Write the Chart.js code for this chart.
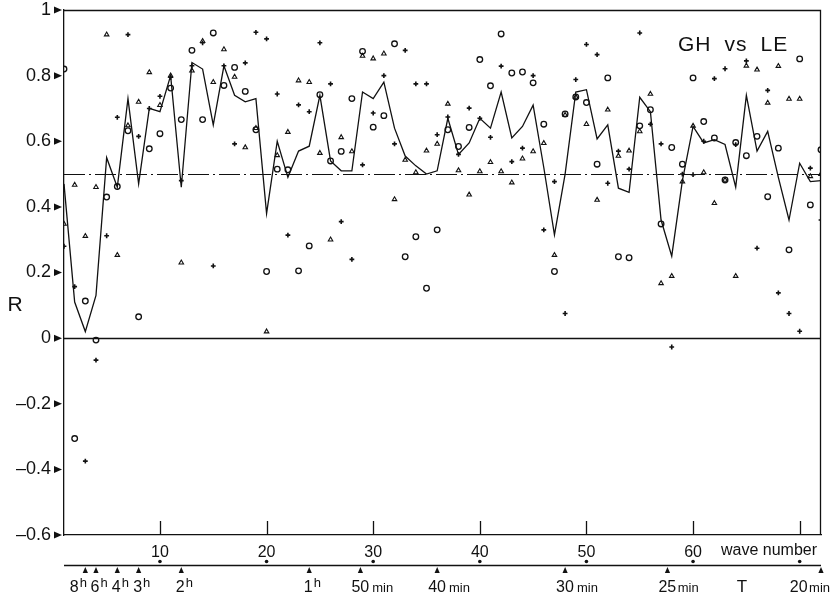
<!DOCTYPE html>
<html>
<head>
<meta charset="utf-8">
<script src="https://cdn.jsdelivr.net/npm/chart.js@4.4.1/dist/chart.umd.min.js"></script>
<style>
  html, body { margin: 0; padding: 0; background: #fff; }
  #wrap { width: 831px; height: 596px; }
</style>
</head>
<body>
<div id="wrap"><canvas id="chart" width="831" height="596"></canvas></div>
<script>
// wave numbers 1..72 (period = 24h / n)
const waveNumbers = [
  1, 2, 3, 4, 5, 6, 7, 8, 9, 10, 11, 12, 13, 14, 15, 16, 17, 18,
  19, 20, 21, 22, 23, 24, 25, 26, 27, 28, 29, 30, 31, 32, 33, 34, 35, 36,
  37, 38, 39, 40, 41, 42, 43, 44, 45, 46, 47, 48, 49, 50, 51, 52, 53, 54,
  55, 56, 57, 58, 59, 60, 61, 62, 63, 64, 65, 66, 67, 68, 69, 70, 71, 72
];

// solid curve
const meanR = [
  0.47, 0.11, 0.02, 0.13, 0.55, 0.46, 0.73, 0.47, 0.70, 0.69,
  0.80, 0.46, 0.84, 0.82, 0.65, 0.83, 0.74, 0.72, 0.73, 0.38,
  0.60, 0.49, 0.57, 0.585, 0.74, 0.54, 0.51, 0.51, 0.75, 0.73,
  0.78, 0.64, 0.555, 0.525, 0.50, 0.51, 0.67, 0.56, 0.595, 0.67,
  0.64, 0.75, 0.61, 0.645, 0.71, 0.52, 0.315, 0.50, 0.75, 0.757,
  0.607, 0.65, 0.457, 0.444, 0.734, 0.69, 0.36, 0.25, 0.48, 0.645,
  0.595, 0.605, 0.59, 0.46, 0.74, 0.57, 0.63, 0.49, 0.36, 0.533,
  0.477, 0.48
];

// o
const circleR = [
  0.82, -0.306, 0.113, -0.006, 0.43, 0.462, 0.632, 0.065, 0.577, 0.623,
  0.762, 0.666, 0.877, 0.666, 0.93, 0.77, 0.825, 0.752, 0.635, 0.203,
  0.515, 0.513, 0.205, 0.281, 0.742, 0.54, 0.569, 0.73, 0.874, 0.643,
  0.678, 0.897, 0.248, 0.309, 0.152, 0.33, 0.635, 0.584, 0.642, 0.849,
  0.769, 0.927, 0.808, 0.811, 0.778, 0.652, 0.203, 0.683, 0.735, 0.718,
  0.53, 0.793, 0.248, 0.245, 0.647, 0.696, 0.348, 0.581, 0.53, 0.793,
  0.66, 0.61, 0.482, 0.596, 0.556, 0.615, 0.431, 0.579, 0.269, 0.851,
  0.406, 0.574
];

// triangles
const triangleR = [
  0.348, 0.467, 0.311, 0.46, 0.925, 0.253, 0.648, 0.72, 0.81, 0.71,
  0.80, 0.23, 0.815, 0.905, 0.78, 0.88, 0.796, 0.581, 0.64, 0.02,
  0.557, 0.628, 0.785, 0.78, 0.564, 0.30, 0.612, 0.569, 0.86, 0.852,
  0.867, 0.423, 0.543, 0.505, 0.571, 0.592, 0.714, 0.511, 0.437, 0.508,
  0.536, 0.508, 0.474, 0.547, 0.569, 0.594, 0.253, 0.68, 0.735, 0.652,
  0.421, 0.696, 0.555, 0.571, 0.63, 0.744, 0.167, 0.189, 0.477, 0.647,
  0.505, 0.411, 0.482, 0.189, 0.83, 0.818, 0.717, 0.829, 0.729, 0.729,
  0.493, 0.50
];

// +
const plusR = [
  0.28, 0.157, -0.375, -0.067, 0.312, 0.673, 0.925, 0.615, 0.70, 0.737,
  0.795, 0.48, 0.83, 0.90, 0.22, 0.83, 0.592, 0.839, 0.932, 0.912,
  0.744, 0.314, 0.711, 0.69, 0.90, 0.775, 0.355, 0.24, 0.528, 0.686,
  0.80, 0.592, 0.877, 0.775, 0.775, 0.62, 0.674, 0.56, 0.701, 0.67,
  0.612, 0.829, 0.538, 0.579, 0.80, 0.33, 0.477, 0.075, 0.788, 0.895,
  0.864, 0.472, 0.57, 0.515, 0.93, 0.652, 0.592, -0.027, 0.50, 0.498,
  0.60, 0.791, 0.821, 0.59, 0.845, 0.274, 0.755, 0.138, 0.075, 0.021,
  0.518, 0.36
];

const waveTicks = [10, 20, 30, 40, 50, 60, 70];
const waveTickLabels = ['10', '20', '30', '40', '50', '60', ''];
const rTicks = [-0.6, -0.4, -0.2, 0, 0.2, 0.4, 0.6, 0.8, 1];
const periodWaves = [3, 4, 6, 8, 12, 24, 28.8, 36, 48, 57.6, 72];
const periodLabels = ['8h', '6h', '4h', '3h', '2h', '1h', '50 min', '40 min', '30 min', '25min', '20min'];
const refLevel = 0.5;
const titleText = 'GH vs LE';

const INK = '#111';
const FONT = "'Liberation Sans', Arial, sans-serif";

function toPoints(arr) {
  return waveNumbers.map((n, i) => ({ x: n, y: arr[i] }));
}

function hline(ctx, x1, x2, y) {
  ctx.beginPath();
  ctx.moveTo(x1, y);
  ctx.lineTo(x2, y);
  ctx.stroke();
}

const decor = {
  id: 'decor',
  beforeDatasetsDraw(chart) {
    const { ctx, chartArea: a, scales: { y } } = chart;
    ctx.save();
    ctx.strokeStyle = INK;
    ctx.lineWidth = 1.3;
    hline(ctx, a.left, a.right, Math.round(y.getPixelForValue(0)) + 0.5);
    ctx.lineWidth = 1.2;
    ctx.setLineDash([21, 4, 2, 4]);
    hline(ctx, a.left, a.right, Math.round(y.getPixelForValue(refLevel)) + 0.5);
    ctx.restore();
  },
  afterDraw(chart) {
    const { ctx, chartArea: a, scales: { x, y } } = chart;
    const W = chart.width;
    ctx.save();
    ctx.strokeStyle = INK;
    ctx.fillStyle = INK;
    ctx.lineWidth = 1.3;

    // top and right frame
    ctx.beginPath();
    ctx.moveTo(a.left, a.top + 0.5);
    ctx.lineTo(a.right - 0.5, a.top + 0.5);
    ctx.lineTo(a.right - 0.5, a.bottom);
    ctx.stroke();

    // y tick arrows
    rTicks.forEach(v => {
      const py = y.getPixelForValue(v);
      ctx.beginPath();
      ctx.moveTo(a.left - 10, py - 3.5);
      ctx.lineTo(a.left - 2, py);
      ctx.lineTo(a.left - 10, py + 3.5);
      ctx.closePath();
      ctx.fill();
    });

    // inner wave ticks
    waveTicks.forEach(v => {
      const px = Math.round(x.getPixelForValue(v)) + 0.5;
      ctx.beginPath();
      ctx.moveTo(px, a.bottom);
      ctx.lineTo(px, a.bottom - 14);
      ctx.stroke();
    });

    // "R"
    ctx.font = '21px ' + FONT;
    ctx.textAlign = 'center';
    ctx.textBaseline = 'middle';
    ctx.fillText('R', 15, y.getPixelForValue(0.1));

    // title
    ctx.font = '21px ' + FONT;
    ctx.textAlign = 'left';
    ctx.letterSpacing = '1px';
    let tx = a.right - 143;
    titleText.split(' ').forEach(w => {
      ctx.fillText(w, tx, 45);
      tx += ctx.measureText(w).width + 13;
    });
    ctx.letterSpacing = '0px';

    // "wave number"
    ctx.font = '16px ' + FONT;
    ctx.textAlign = 'right';
    ctx.fillText('wave number', a.right - 4, 551);

    // period axis
    const py = 565;
    ctx.lineWidth = 1.3;
    hline(ctx, a.left, a.right, py + 0.5);
    waveTicks.forEach(v => {
      ctx.beginPath();
      ctx.arc(x.getPixelForValue(v), py - 3.5, 1.8, 0, Math.PI * 2);
      ctx.fill();
    });
    periodWaves.forEach((v, i) => {
      const px = x.getPixelForValue(v);
      ctx.beginPath();
      ctx.moveTo(px - 2.6, py + 8);
      ctx.lineTo(px + 2.6, py + 8);
      ctx.lineTo(px, py + 2);
      ctx.closePath();
      ctx.fill();

      const m = periodLabels[i].match(/^(\d+)\s*(\D+)$/);
      const num = m[1];
      const unit = m[2];
      const base = 592;
      ctx.textBaseline = 'alphabetic';
      if (unit === 'h') {
        ctx.font = '16px ' + FONT;
        const shift = i === 0 ? -11 : -1;
        const nw = ctx.measureText(num).width;
        ctx.textAlign = 'center';
        ctx.fillText(num, px + shift, base);
        ctx.font = '13px ' + FONT;
        ctx.textAlign = 'left';
        ctx.fillText('h', px + shift + nw / 2 + 1, base - 5);
      } else {
        const gap = /\s/.test(periodLabels[i]) ? 3 : 1.5;
        ctx.font = '16px ' + FONT;
        const nw = ctx.measureText(num).width;
        ctx.font = '13px ' + FONT;
        const uw = ctx.measureText(unit).width;
        let nx = px - 9;
        if (nx + nw + gap + uw > W - 1) nx = W - 1 - (nw + gap + uw);
        ctx.textAlign = 'left';
        ctx.font = '16px ' + FONT;
        ctx.fillText(num, nx, base);
        ctx.font = '13px ' + FONT;
        ctx.fillText(unit, nx + nw + gap, base);
      }
    });

    // period axis label
    ctx.font = '17px ' + FONT;
    ctx.textAlign = 'center';
    ctx.fillText('T', 742, 592);

    ctx.restore();
  }
};

new Chart(document.getElementById('chart'), {
  type: 'scatter',
  data: {
    datasets: [
      {
        label: 'mean',
        data: toPoints(meanR),
        showLine: true,
        borderColor: INK,
        borderWidth: 1.3,
        pointRadius: 0,
        tension: 0,
        order: 1
      },
      {
        label: 'o',
        data: toPoints(circleR),
        pointStyle: 'circle',
        pointRadius: 2.8,
        borderColor: INK,
        backgroundColor: 'rgba(0,0,0,0)',
        borderWidth: 1.3
      },
      {
        label: 'triangle',
        data: toPoints(triangleR),
        pointStyle: 'triangle',
        pointRadius: 2.6,
        borderColor: INK,
        backgroundColor: 'rgba(0,0,0,0)',
        borderWidth: 1.1
      },
      {
        label: '+',
        data: toPoints(plusR),
        pointStyle: 'cross',
        pointRadius: 2.4,
        borderColor: INK,
        borderWidth: 1.6
      }
    ]
  },
  options: {
    responsive: false,
    animation: false,
    devicePixelRatio: 1,
    layout: { padding: { top: 10, right: 10, left: 0, bottom: 0 } },
    plugins: { legend: { display: false }, tooltip: { enabled: false } },
    scales: {
      x: {
        type: 'linear',
        min: 1,
        max: 72,
        afterBuildTicks: s => { s.ticks = waveTicks.map(v => ({ value: v })); },
        afterFit: s => { s.height = 61; s.paddingLeft = 0; s.paddingRight = 0; },
        grid: { display: false, drawTicks: false },
        border: { display: true, color: INK, width: 1.3 },
        ticks: {
          color: INK,
          font: { family: FONT, size: 16 },
          padding: 8,
          maxRotation: 0,
          autoSkip: false,
          callback: v => waveTickLabels[waveTicks.indexOf(v)]
        }
      },
      y: {
        min: -0.6,
        max: 1,
        afterBuildTicks: s => { s.ticks = rTicks.map(v => ({ value: v })); },
        afterFit: s => { s.width = 64; s.paddingTop = 0; s.paddingBottom = 0; },
        grid: { display: false, drawTicks: false },
        border: { display: true, color: INK, width: 1.3 },
        ticks: {
          color: INK,
          font: { family: FONT, size: 18 },
          padding: 13,
          autoSkip: false,
          callback: v => v < 0 ? '\u2013' + Math.abs(v).toFixed(1) : (v === 0 || v === 1 ? String(v) : v.toFixed(1))
        }
      }
    }
  },
  plugins: [decor]
});
</script>
</body>
</html>
